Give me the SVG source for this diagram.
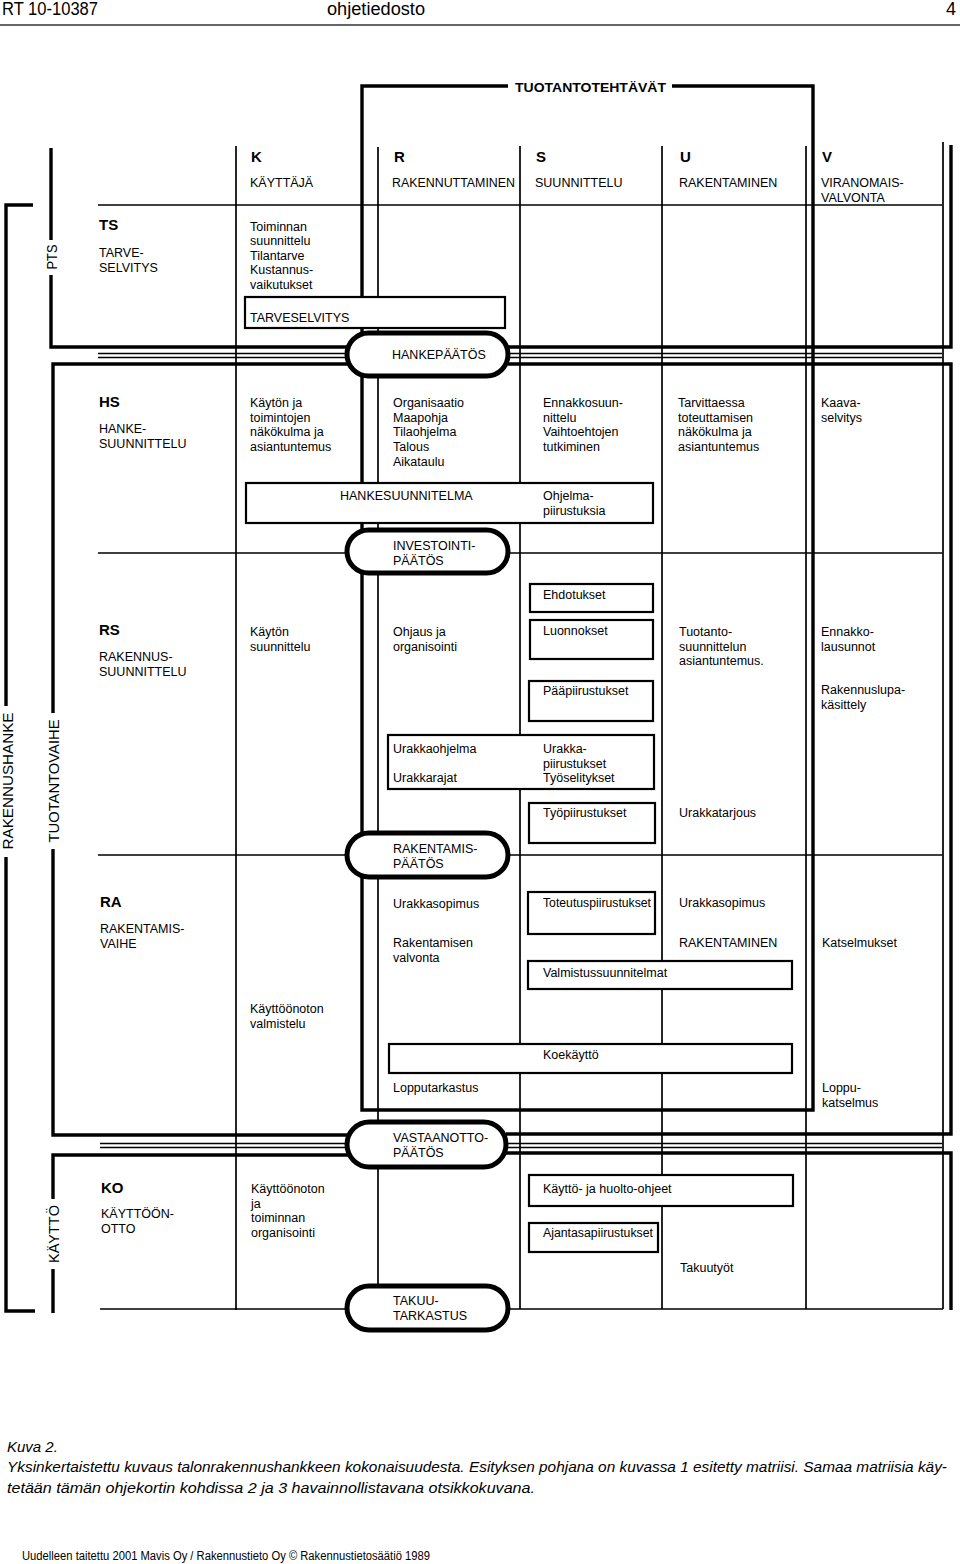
<svg xmlns="http://www.w3.org/2000/svg" width="960" height="1564" viewBox="0 0 960 1564">
<style>
text{font-family:"Liberation Sans",Arial,sans-serif;font-size:12.5px;fill:#000}
.b{font-weight:bold;font-size:15px}
.h{font-size:18px}
.cap{font-size:15px;font-style:italic}
.rot{font-size:15px;text-anchor:middle}
.thin{stroke:#000;stroke-width:1.7;fill:none}
.thick{stroke:#000;stroke-width:3.4;fill:none}
.box{fill:#fff;stroke:#000;stroke-width:2.2}
.oval{fill:#fff;stroke:#000;stroke-width:5}
</style>
<rect width="960" height="1564" fill="#fff"/>
<g id="page-header">
<text class="h" x="2" y="15" textLength="96" lengthAdjust="spacingAndGlyphs">RT 10-10387</text>
<text class="h" x="327" y="15" textLength="98" lengthAdjust="spacingAndGlyphs">ohjetiedosto</text>
<text class="h" x="946" y="15">4</text>
<line x1="0" y1="25" x2="960" y2="25" stroke="#333" stroke-width="1.5"/>
</g>
<g id="connectors">
<path class="thick" d="M508,86 H362 V1110 H813 V86 H672"/>
<path class="thick" d="M33,205 H6 V706 M6,857 V1311 H35"/>
<path class="thick" d="M51,148 V240 M51,275 V347 H350"/>
<path class="thick" d="M350,364 H53 V713 M53,849 V1135 H350"/>
<path class="thick" d="M350,1155 H53 V1199 M53,1269 V1313"/>
<path class="thick" d="M508,347 H951 V145 M508,364 H951 V1134 H506 M506,1153 H951 V1310"/>
<path class="thin" d="M98,205 H942"/>
<path class="thin" d="M98,353.5 H350 M508,353.5 H942 M98,357.5 H350 M508,357.5 H942"/>
<path class="thin" d="M98,553 H350 M508,553 H942"/>
<path class="thin" d="M98,855 H350 M508,855 H942"/>
<path class="thin" d="M100,1143.5 H350 M506,1143.5 H942 M100,1147.5 H350 M506,1147.5 H942"/>
<path class="thin" d="M100,1309 H350 M508,1309 H943"/>
<path class="thin" d="M236,146 V1310 M378,147 V1300 M520,146 V1309 M662,146 V1309 M806,146 V1309 M943,142 V1309"/>
</g>
<g id="side-labels">
<text class="rot" transform="translate(12.5,781) rotate(-90)" textLength="137" lengthAdjust="spacingAndGlyphs">RAKENNUSHANKE</text>
<text class="rot" transform="translate(57,257) rotate(-90)" textLength="25" lengthAdjust="spacingAndGlyphs">PTS</text>
<text class="rot" transform="translate(58.5,781) rotate(-90)" textLength="123" lengthAdjust="spacingAndGlyphs">TUOTANTOVAIHE</text>
<text class="rot" transform="translate(58.5,1234) rotate(-90)" textLength="58" lengthAdjust="spacingAndGlyphs">KÄYTTÖ</text>
</g>
<g id="title">
<text x="515" y="92" font-weight="bold" font-size="15" textLength="151" lengthAdjust="spacingAndGlyphs">TUOTANTOTEHTÄVÄT</text>
</g>
<g id="col-K"><text class="b" x="251" y="162">K</text><text x="250" y="187">KÄYTTÄJÄ</text></g>
<g id="col-R"><text class="b" x="394" y="162">R</text><text x="392" y="187" textLength="123" lengthAdjust="spacingAndGlyphs">RAKENNUTTAMINEN</text></g>
<g id="col-S"><text class="b" x="536" y="162">S</text><text x="535" y="187">SUUNNITTELU</text></g>
<g id="col-U"><text class="b" x="680" y="162">U</text><text x="679" y="187">RAKENTAMINEN</text></g>
<g id="col-V"><text class="b" x="822" y="162">V</text><text x="821" y="187">VIRANOMAIS-</text><text x="821" y="202">VALVONTA</text></g>

<g id="row-TS">
<text class="b" x="99" y="230">TS</text>
<text x="99" y="257">TARVE-<tspan x="99" dy="14.5">SELVITYS</tspan></text>
<text x="250" y="231">Toiminnan<tspan x="250" dy="14.4">suunnittelu</tspan><tspan x="250" dy="14.4">Tilantarve</tspan><tspan x="250" dy="14.4">Kustannus-</tspan><tspan x="250" dy="14.4">vaikutukset</tspan></text>
</g>
<g id="box-tarveselvitys"><rect class="box" x="245" y="297" width="260" height="31"/><text x="250" y="322">TARVESELVITYS</text></g>
<g id="oval-hankepaatos"><rect class="oval" x="347" y="333" width="161" height="43" rx="21.5"/><text x="392" y="359">HANKEPÄÄTÖS</text></g>

<g id="row-HS">
<text class="b" x="99" y="407">HS</text>
<text x="99" y="433">HANKE-<tspan x="99" dy="15">SUUNNITTELU</tspan></text>
<text x="250" y="407">Käytön ja<tspan x="250" dy="14.7">toimintojen</tspan><tspan x="250" dy="14.7">näkökulma ja</tspan><tspan x="250" dy="14.7">asiantuntemus</tspan></text>
<text x="393" y="407">Organisaatio<tspan x="393" dy="14.7">Maapohja</tspan><tspan x="393" dy="14.7">Tilaohjelma</tspan><tspan x="393" dy="14.7">Talous</tspan><tspan x="393" dy="14.7">Aikataulu</tspan></text>
<text x="543" y="407">Ennakkosuun-<tspan x="543" dy="14.7">nittelu</tspan><tspan x="543" dy="14.7">Vaihtoehtojen</tspan><tspan x="543" dy="14.7">tutkiminen</tspan></text>
<text x="678" y="407">Tarvittaessa<tspan x="678" dy="14.7">toteuttamisen</tspan><tspan x="678" dy="14.7">näkökulma ja</tspan><tspan x="678" dy="14.7">asiantuntemus</tspan></text>
<text x="821" y="407">Kaava-<tspan x="821" dy="14.7">selvitys</tspan></text>
</g>
<g id="box-hankesuunnitelma"><rect class="box" x="246" y="483" width="407" height="40"/><text x="340" y="500">HANKESUUNNITELMA</text><text x="543" y="500">Ohjelma-<tspan x="543" dy="14.5">piirustuksia</tspan></text></g>
<g id="oval-investointipaatos"><rect class="oval" x="347" y="530" width="161" height="43" rx="21.5"/><text x="393" y="550">INVESTOINTI-<tspan x="393" dy="15">PÄÄTÖS</tspan></text></g>

<g id="row-RS">
<text class="b" x="99" y="635">RS</text>
<text x="99" y="661">RAKENNUS-<tspan x="99" dy="15">SUUNNITTELU</tspan></text>
<text x="250" y="636">Käytön<tspan x="250" dy="14.5">suunnittelu</tspan></text>
<text x="393" y="636">Ohjaus ja<tspan x="393" dy="14.5">organisointi</tspan></text>
<text x="679" y="636">Tuotanto-<tspan x="679" dy="14.5">suunnittelun</tspan><tspan x="679" dy="14.5">asiantuntemus.</tspan></text>
<text x="821" y="636">Ennakko-<tspan x="821" dy="14.5">lausunnot</tspan></text>
<text x="821" y="694">Rakennuslupa-<tspan x="821" dy="14.5">käsittely</tspan></text>
<text x="679" y="817">Urakkatarjous</text>
</g>
<g id="box-ehdotukset"><rect class="box" x="530" y="584" width="123" height="28"/><text x="543" y="599">Ehdotukset</text></g>
<g id="box-luonnokset"><rect class="box" x="530" y="620" width="123" height="39"/><text x="543" y="635">Luonnokset</text></g>
<g id="box-paapiirustukset"><rect class="box" x="529" y="681" width="124" height="40"/><text x="543" y="695">Pääpiirustukset</text></g>
<g id="box-urakka"><rect class="box" x="388" y="735" width="266" height="54"/><text x="393" y="753">Urakkaohjelma</text><text x="393" y="782">Urakkarajat</text><text x="543" y="753">Urakka-<tspan x="543" dy="14.5">piirustukset</tspan><tspan x="543" dy="14.5">Työselitykset</tspan></text></g>
<g id="box-tyopiirustukset"><rect class="box" x="529" y="803" width="126" height="40"/><text x="543" y="817">Työpiirustukset</text></g>
<g id="oval-rakentamispaatos"><rect class="oval" x="347" y="833" width="161" height="44" rx="22"/><text x="393" y="853">RAKENTAMIS-<tspan x="393" dy="15">PÄÄTÖS</tspan></text></g>

<g id="row-RA">
<text class="b" x="100" y="907">RA</text>
<text x="100" y="933">RAKENTAMIS-<tspan x="100" dy="15">VAIHE</tspan></text>
<text x="393" y="908">Urakkasopimus</text>
<text x="393" y="947">Rakentamisen<tspan x="393" dy="15">valvonta</tspan></text>
<text x="679" y="907">Urakkasopimus</text>
<text x="679" y="947">RAKENTAMINEN</text>
<text x="822" y="947">Katselmukset</text>
<text x="250" y="1013">Käyttöönoton<tspan x="250" dy="15">valmistelu</tspan></text>
<text x="393" y="1092">Lopputarkastus</text>
<text x="822" y="1092">Loppu-<tspan x="822" dy="14.5">katselmus</tspan></text>
</g>
<g id="box-toteutuspiirustukset"><rect class="box" x="528" y="892" width="127" height="42"/><text x="543" y="907" textLength="108" lengthAdjust="spacingAndGlyphs">Toteutuspiirustukset</text></g>
<g id="box-valmistussuunnitelmat"><rect class="box" x="528" y="961" width="264" height="28"/><text x="543" y="977">Valmistussuunnitelmat</text></g>
<g id="box-koekaytto"><rect class="box" x="389" y="1044" width="403" height="29"/><text x="543" y="1059">Koekäyttö</text></g>
<g id="oval-vastaanottopaatos"><rect class="oval" x="347" y="1122" width="159" height="45" rx="22.5"/><text x="393" y="1142">VASTAANOTTO-<tspan x="393" dy="15">PÄÄTÖS</tspan></text></g>

<g id="row-KO">
<text class="b" x="101" y="1193">KO</text>
<text x="101" y="1218">KÄYTTÖÖN-<tspan x="101" dy="15">OTTO</tspan></text>
<text x="251" y="1193">Käyttöönoton<tspan x="251" dy="14.5">ja</tspan><tspan x="251" dy="14.5">toiminnan</tspan><tspan x="251" dy="14.5">organisointi</tspan></text>
<text x="680" y="1272">Takuutyöt</text>
</g>
<g id="box-kayttoohjeet"><rect class="box" x="529" y="1175" width="264" height="31"/><text x="543" y="1193">Käyttö- ja huolto-ohjeet</text></g>
<g id="box-ajantasapiirustukset"><rect class="box" x="529" y="1223" width="129" height="29"/><text x="543" y="1237" textLength="110" lengthAdjust="spacingAndGlyphs">Ajantasapiirustukset</text></g>
<g id="oval-takuutarkastus"><rect class="oval" x="347" y="1286" width="161" height="44" rx="22"/><text x="393" y="1305">TAKUU-<tspan x="393" dy="15">TARKASTUS</tspan></text></g>

<g id="caption">
<text class="cap" x="7" y="1452">Kuva 2.</text>
<text class="cap" x="7" y="1472" textLength="940" lengthAdjust="spacingAndGlyphs">Yksinkertaistettu kuvaus talonrakennushankkeen kokonaisuudesta. Esityksen pohjana on kuvassa 1 esitetty matriisi. Samaa matriisia käy-</text>
<text class="cap" x="7" y="1493" textLength="528" lengthAdjust="spacingAndGlyphs">tetään tämän ohjekortin kohdissa 2 ja 3 havainnollistavana otsikkokuvana.</text>
<text x="22" y="1560" textLength="408" lengthAdjust="spacingAndGlyphs">Uudelleen taitettu 2001 Mavis Oy / Rakennustieto Oy © Rakennustietosäätiö 1989</text>
</g>
</svg>
